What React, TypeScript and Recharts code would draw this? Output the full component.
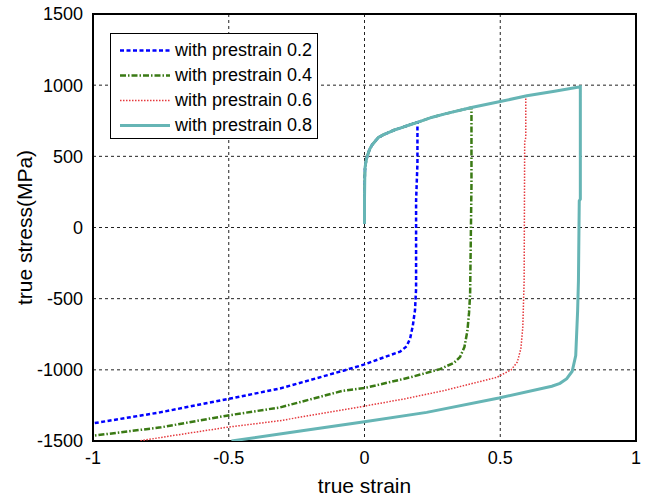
import React from 'react';
import { LineChart, Line, XAxis, YAxis, CartesianGrid, ReferenceArea, Legend } from 'recharts';

const xTicks = [-1, -0.5, 0, 0.5, 1];
const yTicks = [-1500, -1000, -500, 0, 500, 1000, 1500];

const seriesNames = ['with prestrain 0.2', 'with prestrain 0.4', 'with prestrain 0.6', 'with prestrain 0.8'];

const strain02 = [0, 0, 0.001, 0.002, 0.006, 0.01, 0.018, 0.027, 0.04, 0.051, 0.07, 0.088, 0.11, 0.137, 0.165, 0.195, 0.195, 0.19, 0.19, 0.186, 0.178, 0.168, 0.155, 0.131, 0.057, 0, -0.078, -0.311, -0.5, -0.753, -1];
const stress02 = [25, 200, 350, 420, 470, 500, 545, 578, 608, 632, 652, 667, 685, 702, 720, 740, 450, 187, -430, -580, -690, -780, -835, -872, -922, -962, -1006, -1131, -1204, -1299, -1376];

const strain04 = [0, 0, 0.001, 0.002, 0.006, 0.01, 0.018, 0.027, 0.04, 0.051, 0.07, 0.088, 0.11, 0.137, 0.165, 0.192, 0.25, 0.3, 0.394, 0.394, 0.389, 0.385, 0.379, 0.368, 0.352, 0.33, 0.278, 0.168, 0, -0.08, -0.311, -0.508, -0.75, -1];
const stress04 = [25, 200, 350, 420, 470, 500, 545, 578, 608, 632, 652, 667, 685, 702, 720, 737, 775, 800, 843, 300, -470, -600, -726, -840, -910, -950, -995, -1053, -1128, -1147, -1264, -1322, -1404, -1463];

const strain06 = [0, 0, 0.001, 0.002, 0.006, 0.01, 0.018, 0.027, 0.04, 0.051, 0.07, 0.088, 0.11, 0.137, 0.165, 0.192, 0.25, 0.3, 0.394, 0.5, 0.594, 0.594, 0.59, 0.588, 0.583, 0.576, 0.563, 0.54, 0.487, 0.29, 0.15, 0, -0.311, -0.508, -0.75, -0.829];
const stress06 = [25, 200, 350, 420, 470, 500, 545, 578, 608, 632, 652, 667, 685, 702, 720, 737, 775, 800, 843, 885, 923, 632, 600, -374, -702, -850, -945, -1000, -1053, -1147, -1203, -1255, -1357, -1404, -1475, -1500];

const strain08 = [0, 0, 0.001, 0.002, 0.006, 0.01, 0.018, 0.027, 0.04, 0.051, 0.07, 0.088, 0.11, 0.137, 0.165, 0.192, 0.25, 0.3, 0.394, 0.5, 0.598, 0.7, 0.795, 0.795, 0.791, 0.788, 0.785, 0.778, 0.765, 0.745, 0.72, 0.69, 0.495, 0.229, 0, -0.23, -0.49];
const stress08 = [25, 200, 350, 420, 470, 500, 545, 578, 608, 632, 652, 667, 685, 702, 720, 737, 775, 800, 843, 885, 925, 957, 988, 200, 187, -374, -585, -900, -1010, -1062, -1095, -1115, -1198, -1299, -1365, -1428, -1500];

const toPoints = (xs: number[], ys: number[]) => xs.map((x, i) => ({ x, y: ys[i] }));

const seriesData = [
  toPoints(strain02, stress02),
  toPoints(strain04, stress04),
  toPoints(strain06, stress06),
  toPoints(strain08, stress08),
];

const seriesStyle = [
  { color: '#0000ff', width: 2.5, dash: '4 2.5' },
  { color: '#3a7a14', width: 2.5, dash: '6 2 1.5 2' },
  { color: '#e5393d', width: 1.5, dash: '1.5 1.5' },
  { color: '#66b5b5', width: 3, dash: undefined as string | undefined },
];

const FONT = '"Liberation Sans", Arial, Helvetica, sans-serif';

const LegendBox = () => (
  <div
    style={{
      border: '1.5px solid #000',
      background: '#fff',
      width: 208,
      height: 106,
      boxSizing: 'border-box',
      paddingTop: 4,
      fontFamily: FONT,
      fontSize: 18,
      color: '#000',
    }}
  >
    {seriesNames.map((name, i) => (
      <div key={name} style={{ display: 'flex', alignItems: 'center', height: 25 }}>
        <svg width={64} height={25} style={{ flex: 'none' }}>
          <line
            x1={9}
            x2={59}
            y1={12.5}
            y2={12.5}
            stroke={seriesStyle[i].color}
            strokeWidth={seriesStyle[i].width}
            strokeDasharray={seriesStyle[i].dash}
          />
        </svg>
        <span style={{ whiteSpace: 'nowrap', lineHeight: '25px' }}>{name}</span>
      </div>
    ))}
  </div>
);

export default function App() {
  return (
    <div style={{ position: 'absolute', left: 0, top: 0, width: 649, height: 498, background: '#fff' }}>
      <LineChart width={649} height={498} margin={{ top: 14, right: 13, bottom: 0, left: 0 }} style={{ fontFamily: FONT }}>
        <CartesianGrid stroke="#222" strokeDasharray="3 3" strokeWidth={1} />
        <XAxis
          type="number"
          dataKey="x"
          domain={[-1, 1]}
          ticks={xTicks}
          allowDataOverflow
          height={57}
          axisLine={false}
          tickLine={false}
          tickSize={0}
          tickMargin={10}
          tick={{ fill: '#000', fontSize: 18, fontFamily: FONT }}
          tickFormatter={(v: number) => String(v)}
          label={{ value: 'true strain', position: 'insideBottom', offset: 5, fill: '#000', fontSize: 21, fontFamily: FONT }}
        />
        <XAxis
          xAxisId="topTicks"
          orientation="top"
          mirror
          type="number"
          dataKey="x"
          domain={[-1, 1]}
          ticks={xTicks}
          allowDataOverflow
          axisLine={false}
          tickSize={5}
          tickLine={{ stroke: '#000' }}
          tick={false}
        />
        <XAxis
          xAxisId="bottomTicks"
          orientation="bottom"
          mirror
          type="number"
          dataKey="x"
          domain={[-1, 1]}
          ticks={xTicks}
          allowDataOverflow
          axisLine={false}
          tickSize={5}
          tickLine={{ stroke: '#000' }}
          tick={false}
        />
        <YAxis
          type="number"
          dataKey="y"
          domain={[-1500, 1500]}
          ticks={yTicks}
          allowDataOverflow
          width={93}
          axisLine={false}
          tickLine={false}
          tickSize={0}
          tickMargin={10}
          tick={{ fill: '#000', fontSize: 18, fontFamily: FONT }}
          label={{
            value: 'true stress(MPa)',
            angle: -90,
            position: 'insideLeft',
            offset: 25,
            fill: '#000',
            fontSize: 21,
            fontFamily: FONT,
            style: { textAnchor: 'middle' },
          }}
        />
        <YAxis
          yAxisId="leftTicks"
          orientation="left"
          mirror
          type="number"
          dataKey="y"
          domain={[-1500, 1500]}
          ticks={yTicks}
          allowDataOverflow
          axisLine={false}
          tickSize={5}
          tickLine={{ stroke: '#000' }}
          tick={false}
        />
        <YAxis
          yAxisId="rightTicks"
          orientation="right"
          mirror
          type="number"
          dataKey="y"
          domain={[-1500, 1500]}
          ticks={yTicks}
          allowDataOverflow
          axisLine={false}
          tickSize={5}
          tickLine={{ stroke: '#000' }}
          tick={false}
        />
        {seriesData.map((d, i) => (
          <Line
            key={seriesNames[i]}
            data={d}
            dataKey="y"
            name={seriesNames[i]}
            type="linear"
            stroke={seriesStyle[i].color}
            strokeWidth={seriesStyle[i].width}
            strokeDasharray={seriesStyle[i].dash}
            dot={false}
            activeDot={false}
            isAnimationActive={false}
          />
        ))}
        <ReferenceArea x1={-1} x2={1} y1={-1500} y2={1500} fill="none" fillOpacity={0} stroke="#000" strokeWidth={2} />
        <Legend
          layout="vertical"
          align="center"
          verticalAlign="middle"
          content={() => <LegendBox />}
          wrapperStyle={{ left: 110, top: 33, width: 208, height: 106 }}
        />
      </LineChart>
    </div>
  );
}
